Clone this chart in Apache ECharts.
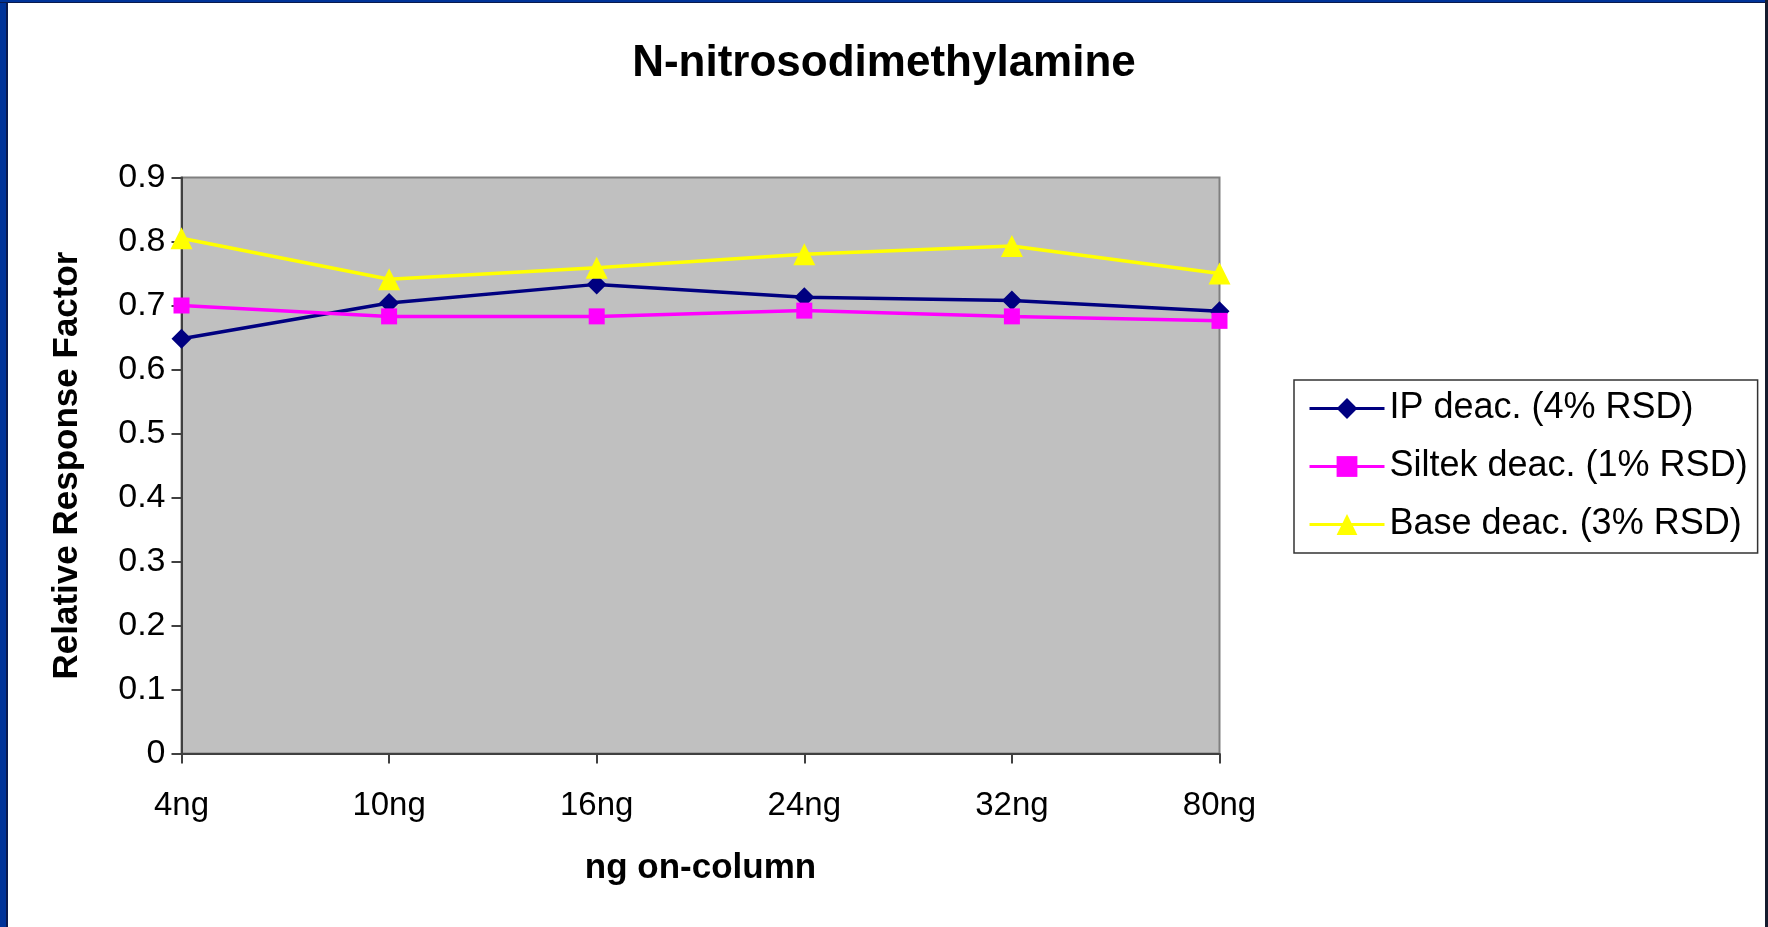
<!DOCTYPE html>
<html>
<head>
<meta charset="utf-8">
<script src="https://cdn.jsdelivr.net/npm/echarts@6/dist/echarts.min.js"></script>
<style>
html,body{margin:0;padding:0;background:#fff;}
#chart{width:1768px;height:927px;}
</style>
</head>
<body>
<div id="chart"></div>
<script>
const categories = ['4ng', '10ng', '16ng', '24ng', '32ng', '80ng'];
const ipDeac = [0.648, 0.704, 0.733, 0.713, 0.708, 0.691];
const siltekDeac = [0.700, 0.683, 0.683, 0.692, 0.683, 0.676];
const baseDeac = [0.805, 0.741, 0.759, 0.780, 0.793, 0.750];
const seriesNames = ['IP deac. (4% RSD)', 'Siltek deac. (1% RSD)', 'Base deac. (3% RSD)'];
const yTickLabels = ['0', '0.1', '0.2', '0.3', '0.4', '0.5', '0.6', '0.7', '0.8', '0.9'];

const FONT = '"Liberation Sans", Arial, sans-serif';
const chart = echarts.init(document.getElementById('chart'), null, {renderer: 'canvas'});

const option = {
  backgroundColor: '#ffffff',
  animation: false,
  title: {
    text: 'N-nitrosodimethylamine',
    left: 'center',
    top: 37,
    textStyle: {fontFamily: FONT, fontSize: 44, fontWeight: 'bold', color: '#000'}
  },
  grid: {
    left: 181.5, right: 548.5, top: 177.5, bottom: 173.5,
    show: true, backgroundColor: '#c0c0c0', borderColor: '#808080', borderWidth: 2
  },
  legend: {
    orient: 'vertical',
    left: 1294, top: 380,
    padding: [10, 10, 10, 14],
    backgroundColor: '#ffffff',
    borderColor: '#333333', borderWidth: 1.5,
    itemWidth: 75, itemHeight: 26, itemGap: 21,
    lineStyle: {width: 3},
    textStyle: {fontFamily: FONT, fontSize: 36, color: '#000', lineHeight: 37},
    data: seriesNames
  },
  xAxis: {
    type: 'category',
    data: categories,
    boundaryGap: false,
    name: 'ng on-column',
    nameLocation: 'middle',
    nameGap: 97,
    nameTextStyle: {fontFamily: FONT, fontSize: 35, fontWeight: 'bold', color: '#000'},
    axisLine: {lineStyle: {color: '#404040', width: 2}},
    axisTick: {show: true, inside: false, length: 10, alignWithLabel: true, lineStyle: {color: '#404040', width: 2}},
    axisLabel: {fontFamily: FONT, fontSize: 33, color: '#000', margin: 36, lineHeight: 33},
    splitLine: {show: false}
  },
  yAxis: {
    type: 'value',
    min: 0, max: 0.9, interval: 0.1,
    name: 'Relative Response Factor',
    nameLocation: 'middle',
    nameGap: 97,
    nameTextStyle: {fontFamily: FONT, fontSize: 35, fontWeight: 'bold', color: '#000'},
    axisLine: {show: true, lineStyle: {color: '#404040', width: 2}},
    axisTick: {show: true, inside: false, length: 10, lineStyle: {color: '#404040', width: 2}},
    axisLabel: {
      fontFamily: FONT, fontSize: 34, color: '#000', margin: 16,
      formatter: function (v) { return yTickLabels[Math.round(v * 10)]; }
    },
    splitLine: {show: false}
  },
  series: [
    {
      name: seriesNames[0], type: 'line', data: ipDeac,
      symbol: 'diamond', symbolSize: 20,
      lineStyle: {color: '#000080', width: 3.5},
      itemStyle: {color: '#000080'}
    },
    {
      name: seriesNames[1], type: 'line', data: siltekDeac,
      symbol: 'rect', symbolSize: 16,
      lineStyle: {color: '#ff00ff', width: 3.5},
      itemStyle: {color: '#ff00ff'}
    },
    {
      name: seriesNames[2], type: 'line', data: baseDeac,
      symbol: 'triangle', symbolSize: 22,
      lineStyle: {color: '#ffff00', width: 3.5},
      itemStyle: {color: '#ffff00'}
    }
  ],
  graphic: [
    {type: 'rect', left: 0, top: 0, shape: {width: 7, height: 927}, style: {fill: '#003399'}, silent: true},
    {type: 'rect', left: 6, top: 0, shape: {width: 2, height: 927}, style: {fill: '#0b1a4d'}, silent: true},
    {type: 'rect', left: 0, top: 0, shape: {width: 1768, height: 3}, style: {fill: '#003399'}, silent: true},
    {type: 'rect', left: 0, top: 2, shape: {width: 1768, height: 1}, style: {fill: '#0b1a4d'}, silent: true},
    {type: 'rect', left: 1765, top: 0, shape: {width: 3, height: 927}, style: {fill: '#151b2e'}, silent: true}
  ]
};
chart.setOption(option);
</script>
</body>
</html>
